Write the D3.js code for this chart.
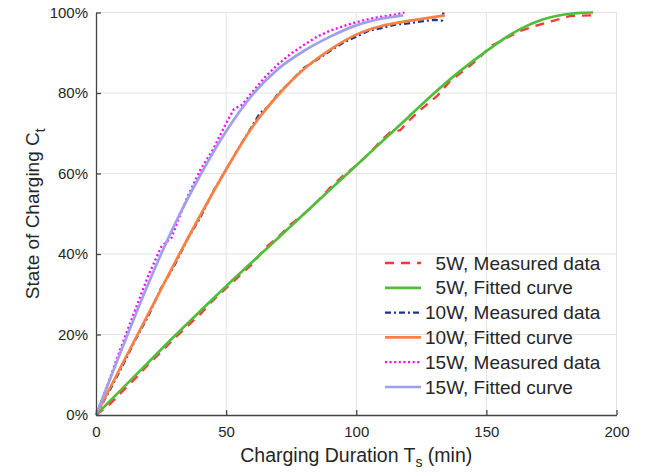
<!DOCTYPE html>
<html>
<head>
<meta charset="utf-8">
<script src="https://cdn.jsdelivr.net/npm/d3@7"></script>
<style>
  html, body { margin: 0; padding: 0; background: #fff; }
  svg { display: block; font-family: "Liberation Sans", Arial, Helvetica, sans-serif; }
</style>
</head>
<body>
<svg id="chart" width="652" height="473"></svg>
<script>
// ---------- data ----------
const xTicks = [0, 50, 100, 150, 200];
const yTicks = [0, 20, 40, 60, 80, 100];

// 5W
const t5Measured   = [0,5,10,15,20,25,30,35,40,45,50,55,60,65,70,75,80,85,90,95,100,105,110,113,117,120,125,131,136,141,147,151.5,157,163,169.5,176,182,191];
const soc5Measured = [0,2.5,5.8,9,12.5,15.6,19,22,25,28.5,31.5,34.5,37.5,41.5,44.2,47.5,50,53,56.5,59.5,62,65,68.5,70.2,70.8,73,76,79.2,82.9,85.4,88.5,91.6,93.4,95.4,96.8,98,99.1,99.3];
const t5Fitted     = [0,10,20,30,40,50,60,70,80,90,100,110,120,130,140,150,160,170,180,186,191];
const soc5Fitted   = [0,6.5,13,19.5,25.8,32,38,44,50,56,62,68,74,80,85.5,90.4,94.8,97.9,99.5,99.9,100];

// 10W
const t10Measured   = [0,5,10,15,20,25,30,35,40,45,50,55,60,63,66,70,75,80,85,90,95,100,105,110,115,120,125,130,133,133.5];
const soc10Measured = [0,5.8,12,18.5,24.5,31.5,37,43.5,49,55.5,61,66.5,71.8,75,76.5,79.8,83,86.3,88.3,90.5,92.5,94,95.5,96.2,97,97.3,97.8,98.2,98,100];
const t10Fitted     = [0,10,20,30,40,50,60,70,80,90,100,110,120,134];
const soc10Fitted   = [0,12.5,25,37.5,49.5,61,71.5,79.5,86,90.8,94.5,96.7,97.9,99.3];

// 15W
const t15Measured   = [0,5,10,15,20,25,27,29,31,35,40,45,50,53,56,60,65,70,75,80,85,90,95,100,105,110,115,118.5];
const soc15Measured = [0,8.5,17.5,26,34.5,41.7,43,44,47.5,54,60.8,66,72.5,76,77,80.2,84,87.2,89.8,92,94,95.5,96.6,97.6,98.4,99,99.5,100];
const t15Fitted     = [0,10,20,30,40,50,60,70,80,90,100,110,118];
const soc15Fitted   = [0,16.5,32.5,47,59.5,70.5,79.5,86,90.5,94,96.8,98.5,99.3];

const seriesNames = ["5W, Measured data","5W, Fitted curve","10W, Measured data","10W, Fitted curve","15W, Measured data","15W, Fitted curve"];

// ---------- styling ----------
const series = [
  {name: seriesNames[0], t: t5Measured,  v: soc5Measured,  color: "#ff3636", dash: "9,7",     width: 2.3, smooth: false},
  {name: seriesNames[1], t: t5Fitted,    v: soc5Fitted,    color: "#4fbf3a", dash: null,      width: 2.7, smooth: true},
  {name: seriesNames[2], t: t10Measured, v: soc10Measured, color: "#1c3594", dash: "6,3,2,3", width: 2.3, smooth: false},
  {name: seriesNames[3], t: t10Fitted,   v: soc10Fitted,   color: "#fd8040", dash: null,      width: 2.7, smooth: true},
  {name: seriesNames[4], t: t15Measured, v: soc15Measured, color: "#ff00ff", dash: "2,2.6",   width: 2.3, smooth: false},
  {name: seriesNames[5], t: t15Fitted,   v: soc15Fitted,   color: "#a0a0e8", dash: null,      width: 2.7, smooth: true}
];

const svg = d3.select("#chart");
const L = 96, R = 616.5, T = 12.5, B = 415;

const x = d3.scaleLinear().domain([0, 200]).range([L, R]);
const y = d3.scaleLinear().domain([0, 100]).range([B, T]);

// grid
const grid = svg.append("g");
grid.selectAll(".gx").data(xTicks.filter(d => d > 0)).join("line")
  .attr("x1", d => x(d)).attr("x2", d => x(d)).attr("y1", T).attr("y2", B)
  .attr("stroke", "#e3e3e3").attr("stroke-width", 1);
grid.selectAll(".gy").data(yTicks.filter(d => d > 0)).join("line")
  .attr("x1", L).attr("x2", R).attr("y1", d => y(d)).attr("y2", d => y(d))
  .attr("stroke", "#e3e3e3").attr("stroke-width", 1);

// lines
const lineLin = d3.line().x(d => x(d[0])).y(d => y(d[1]));
const lineSmooth = d3.line().x(d => x(d[0])).y(d => y(d[1])).curve(d3.curveMonotoneX);

series.forEach(s => {
  const pts = s.t.map((t, i) => [t, s.v[i]]);
  svg.append("path")
    .attr("d", (s.smooth ? lineSmooth : lineLin)(pts))
    .attr("fill", "none")
    .attr("stroke", s.color)
    .attr("stroke-width", s.width)
    .attr("stroke-dasharray", s.dash)
    .attr("stroke-linejoin", "round");
});

// axes
const axisColor = "#444";
const xAxis = svg.append("g").attr("transform", `translate(0,${B})`)
  .call(d3.axisBottom(x).tickValues(xTicks).tickSizeInner(-5).tickSizeOuter(0).tickPadding(11).tickFormat(d3.format("d")));
const yAxis = svg.append("g").attr("transform", `translate(${L},0)`)
  .call(d3.axisLeft(y).tickValues(yTicks).tickSizeInner(-5).tickSizeOuter(0).tickPadding(8).tickFormat(d => d + "%"));
[xAxis, yAxis].forEach(a => {
  a.select(".domain").attr("stroke", axisColor).attr("stroke-width", 1.3);
  a.selectAll(".tick line").attr("stroke", axisColor).attr("stroke-width", 1.3);
  a.selectAll(".tick text").attr("fill", "#262626").attr("font-size", 15)
    .attr("font-family", "'Liberation Sans', Arial, sans-serif");
});
xAxis.selectAll(".tick text").attr("dy", "0.71em");

// axis labels
const xl = svg.append("text").attr("x", (L + R) / 2).attr("y", 462)
  .attr("text-anchor", "middle").attr("font-size", 19.5).attr("fill", "#262626");
xl.append("tspan").text("Charging Duration T");
xl.append("tspan").attr("dy", 5).attr("font-size", 14).text("s");
xl.append("tspan").attr("dy", -5).text(" (min)");

const yl = svg.append("text").attr("transform", `translate(39,${(T + B) / 2}) rotate(-90)`)
  .attr("text-anchor", "middle").attr("font-size", 19).attr("fill", "#262626");
yl.append("tspan").text("State of Charging C");
yl.append("tspan").attr("dy", 6).attr("font-size", 14).text("t");

// legend
const legFont = 19;
const legX1 = 385, legX2 = 421, legTextX = 425, legY0 = 263, legStep = 24.8;
const leg = svg.append("g");
// measure widths of the power prefix so that the "W" characters line up
const tmp = svg.append("text").attr("font-size", legFont);
const powerW = series.map(s => { tmp.text(s.name.split(",")[0]); return tmp.node().getComputedTextLength(); });
tmp.remove();
const maxPW = d3.max(powerW);
series.forEach((s, i) => {
  const yy = legY0 + i * legStep;
  leg.append("line").attr("x1", legX1).attr("x2", legX2).attr("y1", yy).attr("y2", yy)
    .attr("stroke", s.color).attr("stroke-width", s.width).attr("stroke-dasharray", s.dash);
  leg.append("text").attr("x", legTextX + (maxPW - powerW[i])).attr("y", yy + 6.5)
    .attr("font-size", legFont).attr("fill", "#262626").text(s.name);
});
</script>
</body>
</html>
